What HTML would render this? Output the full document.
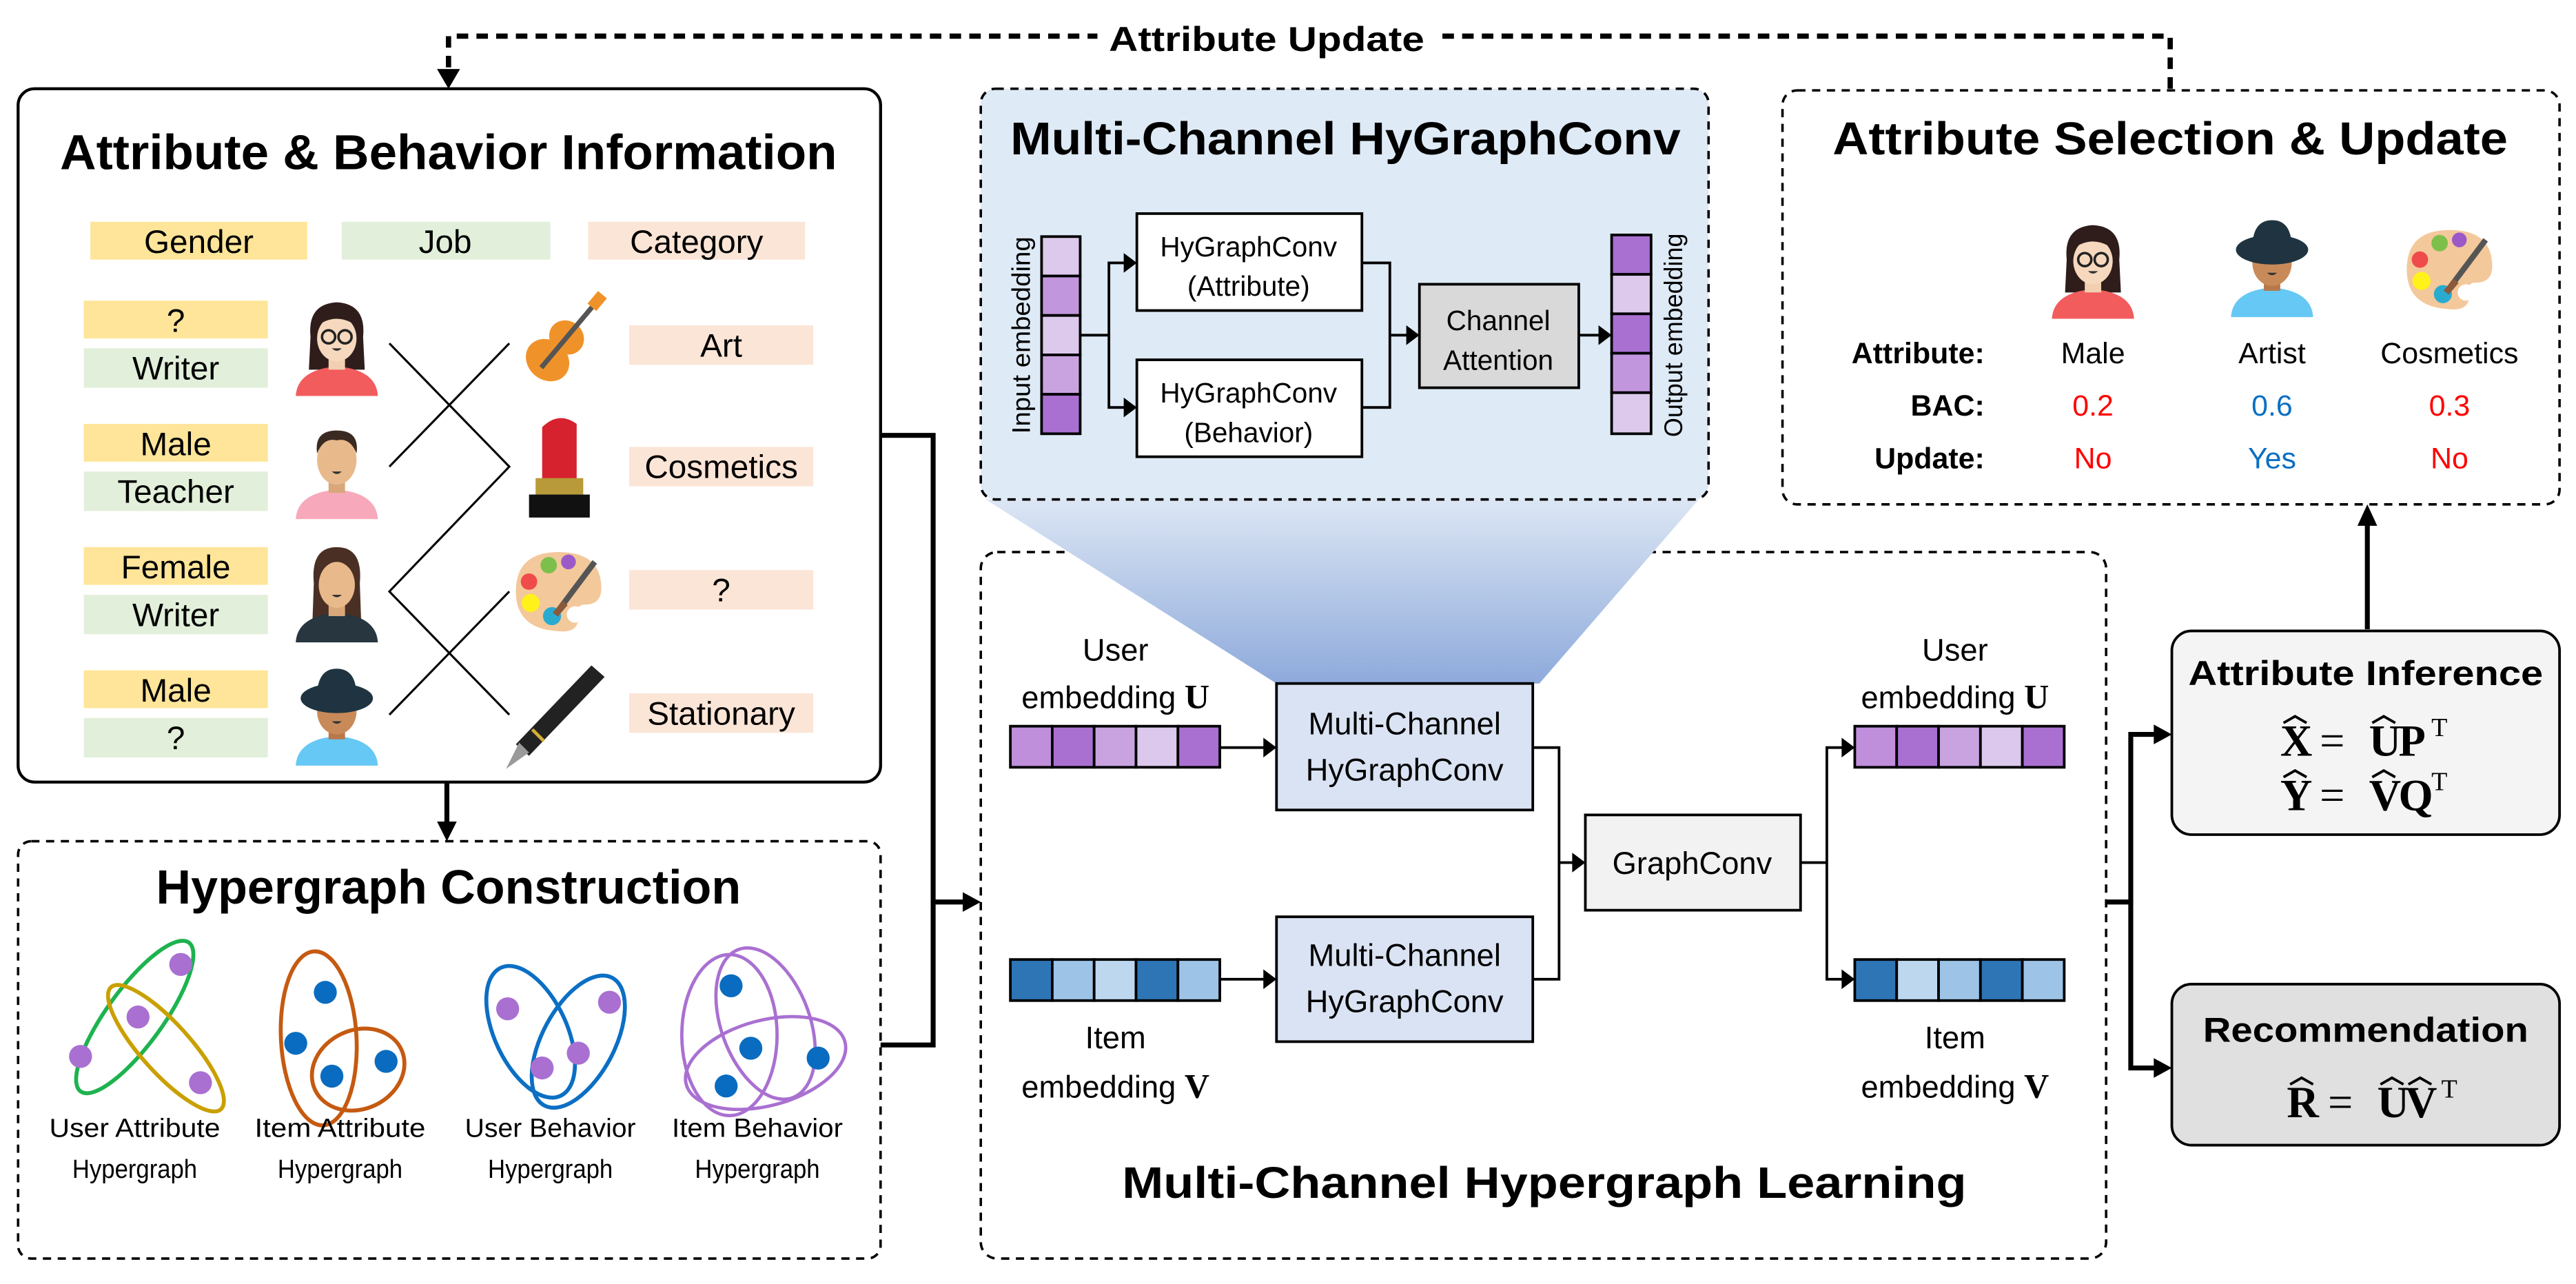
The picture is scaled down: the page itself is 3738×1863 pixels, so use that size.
<!DOCTYPE html>
<html><head><meta charset="utf-8"><style>
html,body{margin:0;padding:0;background:#fff}
svg{display:block}
text{font-family:"Liberation Sans",sans-serif}
.b{font-weight:bold}
text.s,tspan.s,.s text{font-family:"Liberation Serif",serif;font-weight:bold}
.s text.n{font-weight:normal}
</style></head><body>
<svg width="3738" height="1863" viewBox="0 0 1568 781.5" xmlns="http://www.w3.org/2000/svg">
<defs>
<linearGradient id="tg" x1="0" y1="0" x2="0" y2="1"><stop offset="0" stop-color="#dce6f4"/><stop offset="1" stop-color="#8eaadb"/></linearGradient>
<symbol id="fem" viewBox="0 0 60 60">
<path d="M14,24 Q12,4 30,3 Q48,4 46,24 L47,44 L13,44 Z" fill="#2e1d1a"/>
<path d="M5,60 Q6,44 30,42 Q54,44 55,60 Z" fill="#f25c5c"/>
<rect x="25" y="34" width="10" height="10" fill="#f1cfb0"/>
<ellipse cx="30" cy="25" rx="12" ry="14" fill="#f5d8bd"/>
<path d="M17,18 Q30,8 43,18 L43,12 Q30,2 17,12Z" fill="#2e1d1a"/>
<circle cx="25" cy="24" r="4" fill="none" stroke="#222" stroke-width="1.5"/><circle cx="35" cy="24" r="4" fill="none" stroke="#222" stroke-width="1.5"/>
<path d="M27,31 Q30,34 33,31Z" fill="#333"/>
</symbol>
<symbol id="mal" viewBox="0 0 60 60">
<path d="M5,60 Q6,44 30,42 Q54,44 55,60 Z" fill="#f7a9bb"/>
<rect x="25" y="34" width="10" height="10" fill="#d9a77a"/>
<ellipse cx="30" cy="24" rx="12" ry="15" fill="#e8b98b"/>
<path d="M18,20 Q16,6 30,6 Q44,6 42,20 Q38,10 30,12 Q22,10 18,20Z" fill="#3a2a22"/>
<path d="M27,31 Q30,34 33,31Z" fill="#333"/>
</symbol>
<symbol id="fem2" viewBox="0 0 60 60">
<path d="M16,24 Q14,2 30,2 Q46,2 44,24 L45,52 L15,52 Z" fill="#4a2f24"/>
<path d="M5,60 Q6,44 30,42 Q54,44 55,60 Z" fill="#27363f"/>
<rect x="25" y="34" width="10" height="10" fill="#d9a77a"/>
<ellipse cx="30" cy="25" rx="11" ry="14" fill="#e8b98b"/>
<path d="M27,31 Q30,34 33,31Z" fill="#333"/>
</symbol>
<symbol id="hat" viewBox="0 0 60 60">
<path d="M5,60 Q6,44 30,42 Q54,44 55,60 Z" fill="#66c8f5"/>
<rect x="25" y="34" width="10" height="10" fill="#b8784a"/>
<ellipse cx="30" cy="27" rx="12" ry="14" fill="#c98a5a"/>
<ellipse cx="30" cy="19" rx="22" ry="9" fill="#1f3440"/>
<path d="M18,18 Q18,1 30,1 Q42,1 42,18Z" fill="#1f3440"/>
<path d="M27,33 Q30,36 33,33Z" fill="#333"/>
</symbol>
<symbol id="pal" viewBox="0 0 60 60">
<path d="M30,6 Q56,6 56,28 Q56,38 46,38 Q40,38 42,46 Q42,56 28,54 Q4,52 4,30 Q4,6 30,6Z" fill="#f3c89b"/>
<circle cx="40" cy="44" r="5" fill="#fff"/>
<circle cx="24" cy="14" r="5" fill="#7cc04b"/><circle cx="36" cy="12" r="4.5" fill="#9b59c7"/>
<circle cx="12" cy="24" r="5" fill="#f04b4b"/><circle cx="13" cy="37" r="5.5" fill="#fff21a"/>
<circle cx="26" cy="45" r="5.5" fill="#29abd0"/>
<path d="M28,44 L52,12" stroke="#555" stroke-width="3.5"/><path d="M28,44 L34,37" stroke="#8a5a3a" stroke-width="4"/>
</symbol>
</defs>

<path d="M1321,54 V22 H273 V50" fill="none" stroke="#000" stroke-width="3.2" stroke-dasharray="7 5"/>
<path d="M266,42 L273,54 L280,42 Z" fill="#000"/>
<rect x="668" y="8" width="208" height="30" fill="#fff"/>
<text x="771" y="31" class="b" font-size="21" text-anchor="middle" textLength="192" lengthAdjust="spacingAndGlyphs">Attribute Update</text>

<rect x="11" y="54" width="525" height="422" rx="10" fill="#fff" stroke="#000" stroke-width="1.8"/>
<text x="273" y="103" class="b" font-size="30" text-anchor="middle" textLength="473" lengthAdjust="spacingAndGlyphs">Attribute &amp; Behavior Information</text>
<g font-size="20" text-anchor="middle">
<rect x="55" y="135" width="132" height="23" fill="#fee599"/><text x="121" y="154">Gender</text>
<rect x="208" y="135" width="127" height="23" fill="#e2efda"/><text x="271" y="154">Job</text>
<rect x="358" y="135" width="132" height="23" fill="#fbe5d6"/><text x="424" y="154">Category</text>
<rect x="51" y="183" width="112" height="23" fill="#fee599"/><text x="107" y="202">?</text>
<rect x="51" y="212" width="112" height="24" fill="#e2efda"/><text x="107" y="231">Writer</text>
<rect x="51" y="258" width="112" height="23" fill="#fee599"/><text x="107" y="277">Male</text>
<rect x="51" y="287" width="112" height="24" fill="#e2efda"/><text x="107" y="306">Teacher</text>
<rect x="51" y="333" width="112" height="23" fill="#fee599"/><text x="107" y="352">Female</text>
<rect x="51" y="362" width="112" height="24" fill="#e2efda"/><text x="107" y="381">Writer</text>
<rect x="51" y="408" width="112" height="23" fill="#fee599"/><text x="107" y="427">Male</text>
<rect x="51" y="437" width="112" height="24" fill="#e2efda"/><text x="107" y="456">?</text>
<rect x="383" y="198" width="112" height="24" fill="#fbe5d6"/><text x="439" y="217">Art</text>
<rect x="383" y="272" width="112" height="24" fill="#fbe5d6"/><text x="439" y="291">Cosmetics</text>
<rect x="383" y="347" width="112" height="24" fill="#fbe5d6"/><text x="439" y="366">?</text>
<rect x="383" y="422" width="112" height="24" fill="#fbe5d6"/><text x="439" y="441">Stationary</text>
</g>
<use href="#fem" x="175" y="181" width="60" height="60"/>
<use href="#mal" x="175" y="256" width="60" height="60"/>
<use href="#fem2" x="175" y="331" width="60" height="60"/>
<use href="#hat" x="175" y="405" width="60" height="62"/>
<g transform="translate(341,210) rotate(40)">
<ellipse cx="0" cy="12" rx="14" ry="12" fill="#f0922a"/><ellipse cx="0" cy="-6" rx="11" ry="10" fill="#f0922a"/>
<rect x="-1.5" y="-34" width="3" height="52" fill="#555"/><rect x="-3.5" y="-40" width="7" height="10" fill="#f0922a"/>
</g>
<g><path d="M330,260 Q340,250 351,258 L351,293 L330,293Z" fill="#d6222e"/><rect x="326" y="291" width="29" height="10" fill="#b89a3a"/><rect x="322" y="301" width="37" height="14" fill="#111"/></g>
<use href="#pal" x="306" y="330" width="68" height="60"/>
<g><path d="M360,405 L368,412 L322,460 L314,453Z" fill="#222"/><path d="M316,452 L322,458 L308,468Z" fill="#9a9a9a"/><path d="M324,444 L331,451" stroke="#d4af37" stroke-width="2"/></g>
<g stroke="#000" stroke-width="1.3" fill="none">
<polyline points="237,209 310,284 237,360 310,435"/>
<line x1="310" y1="209" x2="237" y2="284"/>
<line x1="237" y1="435" x2="310" y2="360"/>
</g>

<line x1="272" y1="476" x2="272" y2="504" stroke="#000" stroke-width="3"/>
<path d="M266,500 L272,512 L278,500Z" fill="#000"/>

<rect x="11" y="512" width="525" height="254" rx="8" fill="#fff" stroke="#000" stroke-width="1.5" stroke-dasharray="5 4"/>
<text x="273" y="550" class="b" font-size="29" text-anchor="middle" textLength="356" lengthAdjust="spacingAndGlyphs">Hypergraph Construction</text>
<g fill="none" stroke-width="2.4">
<ellipse cx="82" cy="619" rx="56" ry="17" transform="rotate(-54 82 619)" stroke="#1db34f"/>
<ellipse cx="101" cy="638" rx="50" ry="15" transform="rotate(48 101 638)" stroke="#c9a000"/>
<ellipse cx="194" cy="632" rx="23" ry="53" transform="rotate(-3 194 632)" stroke="#c55a11"/>
<ellipse cx="218" cy="651" rx="29" ry="24" transform="rotate(-25 218 651)" stroke="#c55a11"/>
<ellipse cx="323" cy="628" rx="22" ry="43" transform="rotate(-25 323 628)" stroke="#0b6fc4"/>
<ellipse cx="352" cy="634" rx="22" ry="44" transform="rotate(28 352 634)" stroke="#0b6fc4"/>
<ellipse cx="444" cy="630" rx="29" ry="49" stroke="#a970d1" stroke-width="2"/>
<ellipse cx="466" cy="623" rx="27" ry="48" transform="rotate(-20 466 623)" stroke="#a970d1" stroke-width="2"/>
<ellipse cx="466" cy="647" rx="50" ry="26" transform="rotate(-15 466 647)" stroke="#a970d1" stroke-width="2"/>
</g>
<g fill="#a970d1"><circle cx="110" cy="587" r="7"/><circle cx="84" cy="619" r="7"/><circle cx="49" cy="643" r="7"/><circle cx="122" cy="659" r="7"/>
<circle cx="309" cy="614" r="7"/><circle cx="371" cy="610" r="7"/><circle cx="352" cy="641" r="7"/><circle cx="330" cy="650" r="7"/></g>
<g fill="#0a6cc0"><circle cx="198" cy="604" r="7"/><circle cx="180" cy="635" r="7"/><circle cx="202" cy="655" r="7"/><circle cx="235" cy="646" r="7"/>
<circle cx="445" cy="600" r="7"/><circle cx="457" cy="638" r="7"/><circle cx="498" cy="644" r="7"/><circle cx="442" cy="661" r="7"/></g>
<g font-size="16" text-anchor="middle">
<text x="82" y="692" textLength="104" lengthAdjust="spacingAndGlyphs">User Attribute</text><text x="82" y="717" textLength="76" lengthAdjust="spacingAndGlyphs">Hypergraph</text>
<text x="207" y="692" textLength="104" lengthAdjust="spacingAndGlyphs">Item Attribute</text><text x="207" y="717" textLength="76" lengthAdjust="spacingAndGlyphs">Hypergraph</text>
<text x="335" y="692" textLength="104" lengthAdjust="spacingAndGlyphs">User Behavior</text><text x="335" y="717" textLength="76" lengthAdjust="spacingAndGlyphs">Hypergraph</text>
<text x="461" y="692" textLength="104" lengthAdjust="spacingAndGlyphs">Item Behavior</text><text x="461" y="717" textLength="76" lengthAdjust="spacingAndGlyphs">Hypergraph</text>
</g>

<polyline points="536,265 568,265 568,636 536,636" fill="none" stroke="#000" stroke-width="3"/>
<line x1="568" y1="549" x2="588" y2="549" stroke="#000" stroke-width="3"/>
<path d="M586,543 L597,549 L586,555Z" fill="#000"/>

<rect x="597" y="336" width="685" height="430" rx="10" fill="#fff" stroke="#000" stroke-width="1.5" stroke-dasharray="5 4"/>
<path d="M600,304 L1034,304 L937,416 L777,416 Z" fill="url(#tg)"/>
<rect x="597" y="54" width="443" height="250" rx="9" fill="#deeaf6" stroke="#000" stroke-width="1.5" stroke-dasharray="5 4"/>
<text x="819" y="94" class="b" font-size="28" text-anchor="middle" textLength="408" lengthAdjust="spacingAndGlyphs">Multi-Channel HyGraphConv</text>
<g stroke="#000" stroke-width="1.6">
<rect x="634" y="144" width="23.5" height="24" fill="#ddc9ec"/><rect x="634" y="168" width="23.5" height="24" fill="#c296dc"/><rect x="634" y="192" width="23.5" height="24" fill="#ddc9ec"/><rect x="634" y="216" width="23.5" height="24" fill="#c9a3e0"/><rect x="634" y="240" width="23.5" height="24" fill="#a970d1"/>
<rect x="981" y="143" width="24" height="24" fill="#a970d1"/><rect x="981" y="167" width="24" height="24" fill="#ddc9ec"/><rect x="981" y="191" width="24" height="24" fill="#a970d1"/><rect x="981" y="215" width="24" height="24" fill="#c296dc"/><rect x="981" y="239" width="24" height="25" fill="#ddc9ec"/>
<rect x="692" y="130" width="137" height="59" fill="#fff"/>
<rect x="692" y="219" width="137" height="59" fill="#fff"/>
<rect x="864" y="173" width="97" height="63" fill="#d9d9d9"/>
</g>
<g fill="none" stroke="#000" stroke-width="1.6">
<polyline points="658,204 675,204"/><polyline points="686,160 675,160 675,248 686,248"/>
<polyline points="829,160 846,160 846,248 829,248"/><line x1="846" y1="204" x2="857" y2="204"/>
<line x1="961" y1="204" x2="975" y2="204"/>
</g>
<g fill="#000"><path d="M684,154 L692,160 L684,166Z"/><path d="M684,242 L692,248 L684,254Z"/><path d="M856,198 L864,204 L856,210Z"/><path d="M973,198 L981,204 L973,210Z"/></g>
<g font-size="17" text-anchor="middle">
<text x="760" y="156">HyGraphConv</text><text x="760" y="180">(Attribute)</text>
<text x="760" y="245">HyGraphConv</text><text x="760" y="269">(Behavior)</text>
<text x="912" y="201">Channel</text><text x="912" y="225">Attention</text>
</g>
<text font-size="15.5" text-anchor="middle" transform="translate(627,204) rotate(-90)" textLength="120" lengthAdjust="spacingAndGlyphs">Input embedding</text>
<text font-size="15.5" text-anchor="middle" transform="translate(1024,204) rotate(-90)" textLength="124" lengthAdjust="spacingAndGlyphs">Output embedding</text>

<g font-size="19" text-anchor="middle">
<text x="679" y="402">User</text><text x="679" y="431">embedding <tspan class="s" font-size="21">U</tspan></text>
<text x="679" y="638">Item</text><text x="679" y="668">embedding <tspan class="s" font-size="21">V</tspan></text>
<text x="1190" y="402">User</text><text x="1190" y="431">embedding <tspan class="s" font-size="21">U</tspan></text>
<text x="1190" y="638">Item</text><text x="1190" y="668">embedding <tspan class="s" font-size="21">V</tspan></text>
</g>
<g stroke="#000" stroke-width="1.6">
<rect x="615" y="442" width="25.5" height="25" fill="#c08fdb"/><rect x="640.5" y="442" width="25.5" height="25" fill="#a970d1"/><rect x="666" y="442" width="25.5" height="25" fill="#c9a3e0"/><rect x="691.5" y="442" width="25.5" height="25" fill="#dcc7ed"/><rect x="717" y="442" width="25.5" height="25" fill="#a970d1"/>
<rect x="615" y="584" width="25.5" height="25" fill="#2e75b6"/><rect x="640.5" y="584" width="25.5" height="25" fill="#9dc3e6"/><rect x="666" y="584" width="25.5" height="25" fill="#bdd7ee"/><rect x="691.5" y="584" width="25.5" height="25" fill="#2e75b6"/><rect x="717" y="584" width="25.5" height="25" fill="#9dc3e6"/>
<rect x="1129" y="442" width="25.5" height="25" fill="#c08fdb"/><rect x="1154.5" y="442" width="25.5" height="25" fill="#a970d1"/><rect x="1180" y="442" width="25.5" height="25" fill="#c9a3e0"/><rect x="1205.5" y="442" width="25.5" height="25" fill="#dcc7ed"/><rect x="1231" y="442" width="25.5" height="25" fill="#a970d1"/>
<rect x="1129" y="584" width="25.5" height="25" fill="#2e75b6"/><rect x="1154.5" y="584" width="25.5" height="25" fill="#bdd7ee"/><rect x="1180" y="584" width="25.5" height="25" fill="#9dc3e6"/><rect x="1205.5" y="584" width="25.5" height="25" fill="#2e75b6"/><rect x="1231" y="584" width="25.5" height="25" fill="#9dc3e6"/>
<rect x="777" y="416" width="156" height="77" fill="#dae3f3"/>
<rect x="777" y="558" width="156" height="76" fill="#dae3f3"/>
<rect x="965" y="496" width="131" height="58" fill="#f2f2f2"/>
</g>
<g fill="none" stroke="#000" stroke-width="1.6">
<line x1="743" y1="455" x2="770" y2="455"/><line x1="743" y1="596" x2="770" y2="596"/>
<polyline points="933,455 949,455 949,596 933,596"/><line x1="949" y1="525" x2="958" y2="525"/>
<line x1="1096" y1="525" x2="1112" y2="525"/><polyline points="1122,455 1112,455 1112,596 1122,596"/>
</g>
<g fill="#000"><path d="M769,449 L777,455 L769,461Z"/><path d="M769,590 L777,596 L769,602Z"/><path d="M957,519 L965,525 L957,531Z"/><path d="M1121,449 L1129,455 L1121,461Z"/><path d="M1121,590 L1129,596 L1121,602Z"/></g>
<g font-size="19" text-anchor="middle">
<text x="855" y="447">Multi-Channel</text><text x="855" y="475">HyGraphConv</text>
<text x="855" y="588">Multi-Channel</text><text x="855" y="616">HyGraphConv</text>
<text x="1030" y="532">GraphConv</text>
</g>
<text x="940" y="729" class="b" font-size="27" text-anchor="middle" textLength="514" lengthAdjust="spacingAndGlyphs">Multi-Channel Hypergraph Learning</text>

<g stroke="#000" stroke-width="3" fill="none">
<line x1="1282" y1="549" x2="1297" y2="549"/>
<polyline points="1314,447 1297,447 1297,650 1314,650"/>
<line x1="1441" y1="383" x2="1441" y2="318"/>
</g>
<g fill="#000"><path d="M1311,441 L1322,447 L1311,453Z"/><path d="M1311,644 L1322,650 L1311,656Z"/><path d="M1435,320 L1441,307 L1447,320Z"/></g>

<rect x="1322" y="384" width="236" height="124" rx="12" fill="#f4f4f4" stroke="#000" stroke-width="1.6"/>
<text x="1440" y="417" class="b" font-size="21" text-anchor="middle" textLength="216" lengthAdjust="spacingAndGlyphs">Attribute Inference</text>
<rect x="1322" y="599" width="236" height="98" rx="12" fill="#e0e0e0" stroke="#000" stroke-width="1.6"/>
<text x="1440" y="634" class="b" font-size="21" text-anchor="middle" textLength="198" lengthAdjust="spacingAndGlyphs">Recommendation</text>
<g class="s" font-size="27">
<text x="1388" y="460">X</text><text class="n" x="1412" y="460">=</text><text x="1442" y="460">U</text><text x="1460" y="460">P</text><text class="n" x="1480" y="448" font-size="16">T</text>
<text x="1388" y="493">Y</text><text class="n" x="1412" y="493">=</text><text x="1442" y="493">V</text><text x="1460" y="493">Q</text><text class="n" x="1480" y="481" font-size="16">T</text>
<text x="1392" y="680">R</text><text class="n" x="1417" y="680">=</text><text x="1447" y="680">U</text><text x="1464" y="680">V</text><text class="n" x="1486" y="668" font-size="16">T</text>
</g>
<g fill="none" stroke="#000" stroke-width="1.6">
<polyline points="1390,440 1397,436 1404,440"/><polyline points="1444,440 1451,436 1458,440"/>
<polyline points="1390,473 1397,469 1404,473"/><polyline points="1444,473 1451,469 1458,473"/>
<polyline points="1394,660 1401,656 1408,660"/><polyline points="1449,660 1456,656 1463,660"/><polyline points="1466,660 1473,656 1480,660"/>
</g>

<rect x="1085" y="55" width="473" height="252" rx="9" fill="#fff" stroke="#000" stroke-width="1.5" stroke-dasharray="5 4"/>
<text x="1321" y="94" class="b" font-size="28" text-anchor="middle" textLength="411" lengthAdjust="spacingAndGlyphs">Attribute Selection &amp; Update</text>
<use href="#fem" x="1244" y="133" width="60" height="62"/>
<use href="#hat" x="1353" y="131" width="60" height="64"/>
<use href="#pal" x="1458" y="134" width="66" height="60"/>
<g font-size="18">
<text x="1208" y="221" class="b" text-anchor="end">Attribute:</text>
<text x="1208" y="253" class="b" text-anchor="end">BAC:</text>
<text x="1208" y="285" class="b" text-anchor="end">Update:</text>
<g text-anchor="middle">
<text x="1274" y="221">Male</text><text x="1383" y="221">Artist</text><text x="1491" y="221">Cosmetics</text>
<text x="1274" y="253" fill="#f00">0.2</text><text x="1383" y="253" fill="#0b6fc4">0.6</text><text x="1491" y="253" fill="#f00">0.3</text>
<text x="1274" y="285" fill="#f00">No</text><text x="1383" y="285" fill="#0b6fc4">Yes</text><text x="1491" y="285" fill="#f00">No</text>
</g></g>
</svg>
</body></html>
